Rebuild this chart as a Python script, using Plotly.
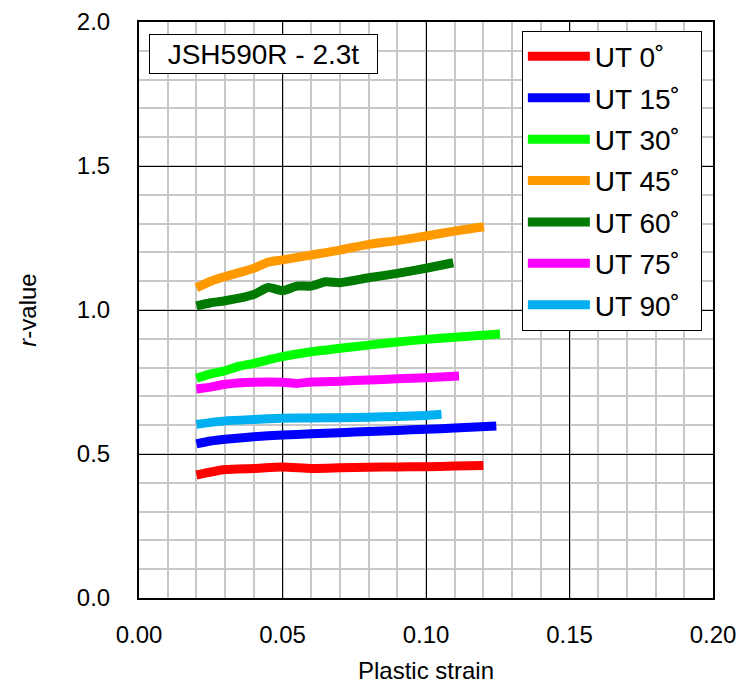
import plotly.graph_objects as go

# ---- data ----
strain_0 = [0.020, 0.030, 0.040, 0.050, 0.060, 0.070, 0.080, 0.090, 0.100, 0.110, 0.120]
r_0 = [0.427, 0.446, 0.450, 0.455, 0.450, 0.452, 0.454, 0.455, 0.456, 0.458, 0.460]

strain_15 = [0.020, 0.025, 0.030, 0.040, 0.050, 0.060, 0.070, 0.080, 0.090, 0.100, 0.110, 0.1245]
r_15 = [0.535, 0.545, 0.551, 0.560, 0.566, 0.570, 0.574, 0.578, 0.582, 0.586, 0.590, 0.597]

strain_30 = [0.020, 0.025, 0.030, 0.035, 0.040, 0.050, 0.060, 0.070, 0.080, 0.090, 0.100, 0.110, 0.1258]
r_30 = [0.763, 0.778, 0.789, 0.805, 0.815, 0.838, 0.855, 0.867, 0.878, 0.889, 0.898, 0.905, 0.917]

strain_45 = [0.020, 0.025, 0.030, 0.040, 0.045, 0.050, 0.060, 0.070, 0.080, 0.090, 0.100, 0.110, 0.1202]
r_45 = [1.077, 1.100, 1.116, 1.145, 1.166, 1.174, 1.191, 1.208, 1.228, 1.241, 1.257, 1.274, 1.289]

strain_60 = [0.020, 0.025, 0.030, 0.040, 0.045, 0.050, 0.055, 0.060, 0.065, 0.070, 0.080, 0.090, 0.100, 0.1095]
r_60 = [1.014, 1.025, 1.032, 1.054, 1.078, 1.067, 1.083, 1.083, 1.098, 1.095, 1.112, 1.127, 1.145, 1.164]

strain_75 = [0.020, 0.025, 0.030, 0.040, 0.050, 0.055, 0.060, 0.070, 0.080, 0.090, 0.100, 0.1115]
r_75 = [0.726, 0.732, 0.742, 0.749, 0.749, 0.745, 0.750, 0.753, 0.757, 0.761, 0.765, 0.771]

strain_90 = [0.020, 0.030, 0.040, 0.050, 0.060, 0.070, 0.080, 0.090, 0.100, 0.1054]
r_90 = [0.603, 0.615, 0.620, 0.624, 0.625, 0.626, 0.628, 0.630, 0.634, 0.638]

series_names = ["UT 0˚", "UT 15˚", "UT 30˚", "UT 45˚", "UT 60˚", "UT 75˚", "UT 90˚"]
series_x = [strain_0, strain_15, strain_30, strain_45, strain_60, strain_75, strain_90]
series_y = [r_0, r_15, r_30, r_45, r_60, r_75, r_90]
series_colors = ["#ff0000", "#0000ff", "#00ff00", "#ff9900", "#007a00", "#ff00ff", "#00b0f0"]

x_ticks = [0.00, 0.05, 0.10, 0.15, 0.20]
y_ticks = [0.0, 0.5, 1.0, 1.5, 2.0]

FONT = "Liberation Sans, Arial, sans-serif"
NB = "\u00a0"

fig = go.Figure()
for i, (name, xs, ys, col) in enumerate(zip(series_names, series_x, series_y, series_colors)):
    fig.add_trace(go.Scatter(
        x=xs, y=ys, mode="lines", name=name + NB * 2,
        line=dict(color=col, width=9, shape="spline", smoothing=0.6),
        legendgroup=f"g{i}",
    ))

fig.update_layout(
    width=747, height=686,
    margin=dict(l=139, r=34, t=22, b=88),
    paper_bgcolor="white", plot_bgcolor="white",
    font=dict(family=FONT, color="black", size=24),
    showlegend=True,
    legend=dict(
        x=0.667, y=0.985, xanchor="left", yanchor="top",
        bordercolor="black", borderwidth=1, bgcolor="white",
        font=dict(size=28, family=FONT),
        tracegroupgap=2, itemwidth=62,
    ),
    xaxis=dict(
        range=[0, 0.2], tickvals=x_ticks, ticktext=[f"{v:.2f}" for v in x_ticks],
        showgrid=True, gridcolor="black", gridwidth=1,
        minor=dict(dtick=0.01, showgrid=True, gridcolor="#c8c8c8", gridwidth=1.5),
        showline=True, linecolor="black", linewidth=2, mirror=True,
        ticks="", zeroline=False, automargin=False,
        tickfont=dict(size=24), ticklabelstandoff=14,
        title=dict(text="Plastic strain", font=dict(size=24), standoff=15),
    ),
    yaxis=dict(
        range=[0, 2.0], tickvals=y_ticks, ticktext=[f"{v:.1f}" for v in y_ticks],
        showgrid=True, gridcolor="black", gridwidth=1,
        minor=dict(dtick=0.1, showgrid=True, gridcolor="#c8c8c8", gridwidth=1.5),
        showline=True, linecolor="black", linewidth=2, mirror=True,
        ticks="", zeroline=False, automargin=False,
        tickfont=dict(size=24), ticklabelstandoff=22,
        title=dict(text="<i>r</i>-value", font=dict(size=24), standoff=33),
    ),
    annotations=[dict(
        text="JSH590R - 2.3t", xref="paper", yref="paper",
        x=0.0174, y=0.979, xanchor="left", yanchor="top",
        showarrow=False, font=dict(size=28, family=FONT),
        bordercolor="black", borderwidth=1, bgcolor="white",
        borderpad=3, width=221, height=32,
    )],
)

fig.write_html("out.html")
